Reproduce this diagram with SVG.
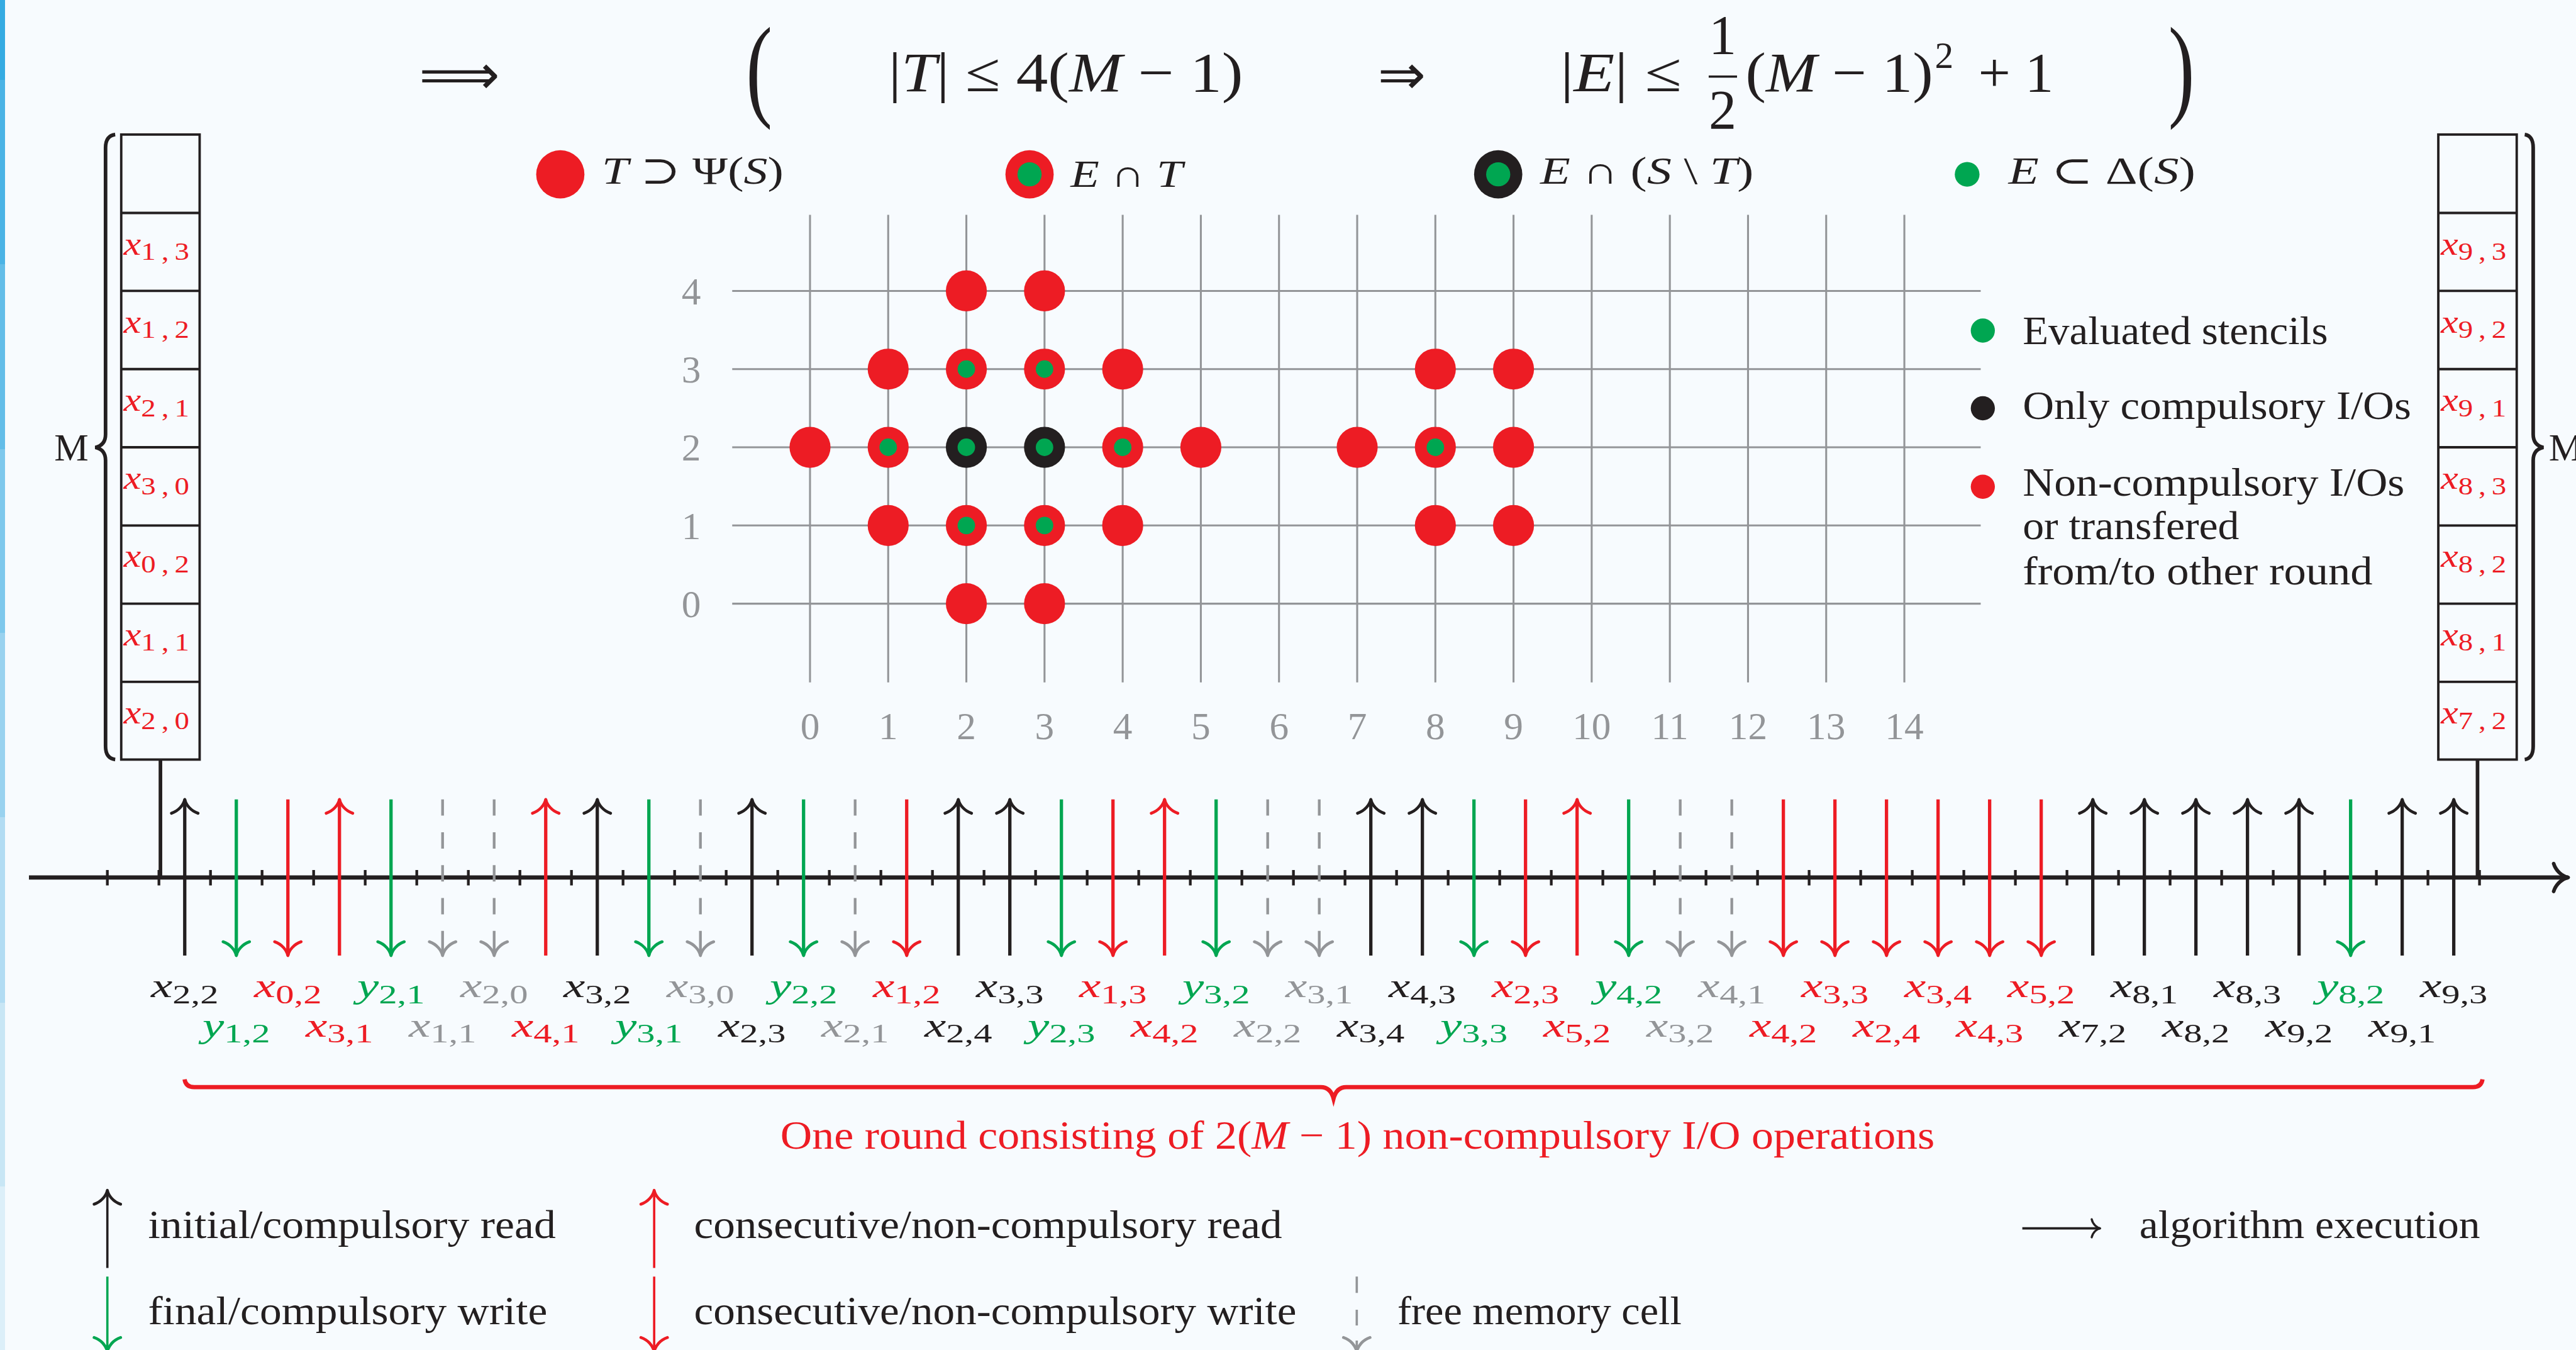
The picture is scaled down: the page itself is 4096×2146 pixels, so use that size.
<svg xmlns="http://www.w3.org/2000/svg" width="4096" height="2146" viewBox="0 0 4096 2146">
<defs>
<style>
text{font-family:'Liberation Serif','DejaVu Serif',serif;fill:#231F20}
.i{font-style:italic}
.k{fill:#231F20}.r{fill:#ED1C24}.g{fill:#00A651}.y{fill:#939598}
.grid line{stroke:#939598;stroke-width:3.2}
.tick{fill:#939598;font-size:64px;text-anchor:middle}
.io{stroke-width:5.5;fill:none}
.sk{stroke:#231F20}.sr{stroke:#ED1C24}.sg{stroke:#00A651}.sy{stroke:#939598}
.dash{stroke-dasharray:27 27.5 27 27.5 27 27.5 27 27.5 60 10;stroke-width:4.5}
.lbl{font-size:58px}
.lbl .s{font-size:44px}
.cell{font-size:56px}
.cell text{fill:#ED1C24}
.cell .s{font-size:42px;letter-spacing:8px}
.box rect,.box line{stroke:#231F20;stroke-width:4;fill:none}
.leg{font-size:66px}
.mt{font-size:64px}
.fm{font-size:92px}
.sup{font-size:62px}
.big{font-size:187px}
.sym{font-family:'DejaVu Sans',sans-serif;font-size:92px}
.la{stroke-width:3.8;fill:none}
</style>
<linearGradient id="strip" x1="0" y1="0" x2="0" y2="1">
<stop offset="0" stop-color="#35ABE2"/><stop offset="0.0594" stop-color="#35ABE2"/>
<stop offset="0.0594" stop-color="#4BB3E5"/><stop offset="0.1957" stop-color="#4BB3E5"/>
<stop offset="0.1957" stop-color="#63BDE8"/><stop offset="0.3325" stop-color="#63BDE8"/>
<stop offset="0.3325" stop-color="#7EC8EC"/><stop offset="0.4688" stop-color="#7EC8EC"/>
<stop offset="0.4688" stop-color="#99D2EF"/><stop offset="0.6055" stop-color="#99D2EF"/>
<stop offset="0.6055" stop-color="#B2DCF3"/><stop offset="0.7427" stop-color="#B2DCF3"/>
<stop offset="0.7427" stop-color="#C8E6F5"/><stop offset="0.8789" stop-color="#C8E6F5"/>
<stop offset="0.8789" stop-color="#DCEFF9"/><stop offset="1" stop-color="#DCEFF9"/>
</linearGradient>
<marker id="hk" markerUnits="userSpaceOnUse" orient="auto" overflow="visible" markerWidth="1" markerHeight="1">
<path d="M-23,-22C-19,-10 -9,-2 0,0C-9,2 -19,10 -23,22" fill="none" stroke="#231F20" stroke-width="4.8" stroke-linecap="round" stroke-linejoin="round"/>
</marker>
<marker id="hg" markerUnits="userSpaceOnUse" orient="auto" overflow="visible" markerWidth="1" markerHeight="1">
<path d="M-23,-22C-19,-10 -9,-2 0,0C-9,2 -19,10 -23,22" fill="none" stroke="#00A651" stroke-width="4.8" stroke-linecap="round" stroke-linejoin="round"/>
</marker>
<marker id="hr" markerUnits="userSpaceOnUse" orient="auto" overflow="visible" markerWidth="1" markerHeight="1">
<path d="M-23,-22C-19,-10 -9,-2 0,0C-9,2 -19,10 -23,22" fill="none" stroke="#ED1C24" stroke-width="4.8" stroke-linecap="round" stroke-linejoin="round"/>
</marker>
<marker id="hy" markerUnits="userSpaceOnUse" orient="auto" overflow="visible" markerWidth="1" markerHeight="1">
<path d="M-23,-22C-19,-10 -9,-2 0,0C-9,2 -19,10 -23,22" fill="none" stroke="#939598" stroke-width="4.8" stroke-linecap="round" stroke-linejoin="round"/>
</marker>
<marker id="hx" markerUnits="userSpaceOnUse" orient="auto" overflow="visible" markerWidth="1" markerHeight="1">
<path d="M-24,-23C-20,-10 -9,-2 0,0C-9,2 -20,10 -24,23" fill="none" stroke="#231F20" stroke-width="6" stroke-linecap="round" stroke-linejoin="round"/>
</marker>
<marker id="hs" markerUnits="userSpaceOnUse" orient="auto" overflow="visible" markerWidth="1" markerHeight="1">
<path d="M-14,-15C-12,-6 -5,-1 0,0C-5,1 -12,6 -14,15" fill="none" stroke="#231F20" stroke-width="3.5" stroke-linecap="round" stroke-linejoin="round"/>
</marker>
</defs>

<rect width="4096" height="2146" fill="#F7FBFE"/>
<rect x="0" y="0" width="8" height="2146" fill="url(#strip)"/>

<g transform="scale(0.95903)">

<!-- headline implication -->
<g id="formula">
<text class="sym" x="694.6" y="155" textLength="134" lengthAdjust="spacingAndGlyphs">⟹</text>
<text class="big" transform="translate(1237,175) scale(0.7,1)">(</text>
<text class="fm" x="1473" y="151" textLength="588" lengthAdjust="spacingAndGlyphs">|<tspan class="i">T</tspan>| ≤ 4(<tspan class="i">M</tspan> − 1)</text>
<text class="sym" x="2284" y="155" textLength="80" lengthAdjust="spacingAndGlyphs">⇒</text>
<text class="fm" x="2587" y="151" textLength="201" lengthAdjust="spacingAndGlyphs">|<tspan class="i">E</tspan>| ≤</text>
<text class="fm" x="2856" y="89" text-anchor="middle">1</text>
<line x1="2833" y1="127" x2="2880" y2="127" stroke="#231F20" stroke-width="3.5"/>
<text class="fm" x="2856" y="213" text-anchor="middle">2</text>
<text class="fm" x="2894" y="151" textLength="311" lengthAdjust="spacingAndGlyphs">(<tspan class="i">M</tspan> − 1)</text>
<text class="sup" x="3208" y="113">2</text>
<text class="fm" x="3280" y="151" textLength="125" lengthAdjust="spacingAndGlyphs">+ 1</text>
<text class="big" transform="translate(3595,175) scale(0.7,1)">)</text>
</g>

<!-- set legend above the grid -->
<g id="legend-sets">
<circle cx="929" cy="289" r="40" fill="#ED1C24"/>
<text class="mt" x="998" y="304" textLength="301" lengthAdjust="spacingAndGlyphs"><tspan class="i">T</tspan> ⊃ Ψ(<tspan class="i">S</tspan>)</text>
<circle cx="1707" cy="289" r="40" fill="#ED1C24"/>
<circle cx="1707" cy="289" r="20" fill="#00A651"/>
<text class="mt" x="1775" y="310" textLength="186" lengthAdjust="spacingAndGlyphs"><tspan class="i">E</tspan> ∩ <tspan class="i">T</tspan></text>
<circle cx="2484" cy="289" r="40" fill="#231F20"/>
<circle cx="2484" cy="289" r="20" fill="#00A651"/>
<text class="mt" x="2553.6" y="304" textLength="354" lengthAdjust="spacingAndGlyphs"><tspan class="i">E</tspan> ∩ (<tspan class="i">S</tspan> \ <tspan class="i">T</tspan>)</text>
<circle cx="3261.5" cy="289" r="20.5" fill="#00A651"/>
<text class="mt" x="3330" y="304" textLength="310" lengthAdjust="spacingAndGlyphs"><tspan class="i">E</tspan> ⊂ Δ(<tspan class="i">S</tspan>)</text>
</g>

<!-- stencil grid -->
<g id="grid" class="grid">
<line x1="1343" y1="356" x2="1343" y2="1131"/>
<line x1="1472.6" y1="356" x2="1472.6" y2="1131"/>
<line x1="1602.2" y1="356" x2="1602.2" y2="1131"/>
<line x1="1731.8" y1="356" x2="1731.8" y2="1131"/>
<line x1="1861.4" y1="356" x2="1861.4" y2="1131"/>
<line x1="1991" y1="356" x2="1991" y2="1131"/>
<line x1="2120.6" y1="356" x2="2120.6" y2="1131"/>
<line x1="2250.2" y1="356" x2="2250.2" y2="1131"/>
<line x1="2379.8" y1="356" x2="2379.8" y2="1131"/>
<line x1="2509.4" y1="356" x2="2509.4" y2="1131"/>
<line x1="2639" y1="356" x2="2639" y2="1131"/>
<line x1="2768.6" y1="356" x2="2768.6" y2="1131"/>
<line x1="2898.2" y1="356" x2="2898.2" y2="1131"/>
<line x1="3027.8" y1="356" x2="3027.8" y2="1131"/>
<line x1="3157.4" y1="356" x2="3157.4" y2="1131"/>
<line x1="1214" y1="482.2" x2="3284" y2="482.2"/>
<line x1="1214" y1="611.8" x2="3284" y2="611.8"/>
<line x1="1214" y1="741.4" x2="3284" y2="741.4"/>
<line x1="1214" y1="871" x2="3284" y2="871"/>
<line x1="1214" y1="1000.6" x2="3284" y2="1000.6"/>
<text class="tick" x="1146" y="504.5">4</text>
<text class="tick" x="1146" y="634.1">3</text>
<text class="tick" x="1146" y="763.7">2</text>
<text class="tick" x="1146" y="893.3">1</text>
<text class="tick" x="1146" y="1022.9">0</text>
<text class="tick" x="1343" y="1225.5">0</text>
<text class="tick" x="1472.6" y="1225.5">1</text>
<text class="tick" x="1602.2" y="1225.5">2</text>
<text class="tick" x="1731.8" y="1225.5">3</text>
<text class="tick" x="1861.4" y="1225.5">4</text>
<text class="tick" x="1991" y="1225.5">5</text>
<text class="tick" x="2120.6" y="1225.5">6</text>
<text class="tick" x="2250.2" y="1225.5">7</text>
<text class="tick" x="2379.8" y="1225.5">8</text>
<text class="tick" x="2509.4" y="1225.5">9</text>
<text class="tick" x="2639" y="1225.5">10</text>
<text class="tick" x="2768.6" y="1225.5">11</text>
<text class="tick" x="2898.2" y="1225.5">12</text>
<text class="tick" x="3027.8" y="1225.5">13</text>
<text class="tick" x="3157.4" y="1225.5">14</text>
</g>

<!-- stencil points -->
<g id="points">
<g fill="#ED1C24">
<circle cx="1602.2" cy="482.2" r="34"/><circle cx="1731.8" cy="482.2" r="34"/>
<circle cx="1472.6" cy="611.8" r="34"/><circle cx="1602.2" cy="611.8" r="34"/><circle cx="1731.8" cy="611.8" r="34"/><circle cx="1861.4" cy="611.8" r="34"/><circle cx="2379.8" cy="611.8" r="34"/><circle cx="2509.4" cy="611.8" r="34"/>
<circle cx="1343" cy="741.4" r="34"/><circle cx="1472.6" cy="741.4" r="34"/><circle cx="1861.4" cy="741.4" r="34"/><circle cx="1991" cy="741.4" r="34"/><circle cx="2250.2" cy="741.4" r="34"/><circle cx="2379.8" cy="741.4" r="34"/><circle cx="2509.4" cy="741.4" r="34"/>
<circle cx="1472.6" cy="871" r="34"/><circle cx="1602.2" cy="871" r="34"/><circle cx="1731.8" cy="871" r="34"/><circle cx="1861.4" cy="871" r="34"/><circle cx="2379.8" cy="871" r="34"/><circle cx="2509.4" cy="871" r="34"/>
<circle cx="1602.2" cy="1000.6" r="34"/><circle cx="1731.8" cy="1000.6" r="34"/>
</g>
<g fill="#231F20">
<circle cx="1602.2" cy="741.4" r="34"/><circle cx="1731.8" cy="741.4" r="34"/>
</g>
<g fill="#00A651">
<circle cx="1602.2" cy="611.8" r="14.5"/><circle cx="1731.8" cy="611.8" r="14.5"/>
<circle cx="1472.6" cy="741.4" r="14.5"/><circle cx="1602.2" cy="741.4" r="14.5"/><circle cx="1731.8" cy="741.4" r="14.5"/><circle cx="1861.4" cy="741.4" r="14.5"/><circle cx="2379.8" cy="741.4" r="14.5"/>
<circle cx="1602.2" cy="871" r="14.5"/><circle cx="1731.8" cy="871" r="14.5"/>
</g>
</g>

<!-- point legend -->
<g id="legend-points">
<circle cx="3287.5" cy="548" r="20" fill="#00A651"/>
<text class="leg" x="3353.6" y="570.8" textLength="506" lengthAdjust="spacingAndGlyphs">Evaluated stencils</text>
<circle cx="3287.5" cy="676.7" r="20" fill="#231F20"/>
<text class="leg" x="3353.6" y="694" textLength="644" lengthAdjust="spacingAndGlyphs">Only compulsory I/Os</text>
<circle cx="3287.5" cy="806.8" r="20" fill="#ED1C24"/>
<text class="leg" x="3353.6" y="821.7" textLength="633" lengthAdjust="spacingAndGlyphs">Non-compulsory I/Os</text>
<text class="leg" x="3353.6" y="893.8" textLength="359" lengthAdjust="spacingAndGlyphs">or transfered</text>
<text class="leg" x="3353.6" y="969" textLength="580" lengthAdjust="spacingAndGlyphs">from/to other round</text>
</g>

<!-- fast memory at the start of the round -->
<g id="memory-left" class="box">
<rect x="201" y="223" width="130" height="1036"/>
<line x1="201" y1="353" x2="331" y2="353"/>
<line x1="201" y1="482.2" x2="331" y2="482.2"/>
<line x1="201" y1="611.8" x2="331" y2="611.8"/>
<line x1="201" y1="741.4" x2="331" y2="741.4"/>
<line x1="201" y1="871" x2="331" y2="871"/>
<line x1="201" y1="1000.6" x2="331" y2="1000.6"/>
<line x1="201" y1="1130.2" x2="331" y2="1130.2"/>
<g class="cell">
<text x="205" y="422" textLength="118" lengthAdjust="spacingAndGlyphs"><tspan class="i">x</tspan><tspan class="s" dy="9">1,3</tspan></text>
<text x="205" y="551.2" textLength="118" lengthAdjust="spacingAndGlyphs"><tspan class="i">x</tspan><tspan class="s" dy="9">1,2</tspan></text>
<text x="205" y="680.8" textLength="118" lengthAdjust="spacingAndGlyphs"><tspan class="i">x</tspan><tspan class="s" dy="9">2,1</tspan></text>
<text x="205" y="810.4" textLength="118" lengthAdjust="spacingAndGlyphs"><tspan class="i">x</tspan><tspan class="s" dy="9">3,0</tspan></text>
<text x="205" y="940" textLength="118" lengthAdjust="spacingAndGlyphs"><tspan class="i">x</tspan><tspan class="s" dy="9">0,2</tspan></text>
<text x="205" y="1069.6" textLength="118" lengthAdjust="spacingAndGlyphs"><tspan class="i">x</tspan><tspan class="s" dy="9">1,1</tspan></text>
<text x="205" y="1199.2" textLength="118" lengthAdjust="spacingAndGlyphs"><tspan class="i">x</tspan><tspan class="s" dy="9">2,0</tspan></text>
</g>
<path d="M191,223Q175,225 175,245V720Q175,738 158,741.6Q175,745 175,763V1237Q175,1257 191,1259" fill="none" stroke="#231F20" stroke-width="6"/>
<text x="90" y="763" style="font-size:64px">M</text>
</g>

<!-- fast memory at the end of the round -->
<g id="memory-right" class="box">
<rect x="4042.7" y="223" width="130" height="1036"/>
<line x1="4042.7" y1="353" x2="4172.7" y2="353"/>
<line x1="4042.7" y1="482.2" x2="4172.7" y2="482.2"/>
<line x1="4042.7" y1="611.8" x2="4172.7" y2="611.8"/>
<line x1="4042.7" y1="741.4" x2="4172.7" y2="741.4"/>
<line x1="4042.7" y1="871" x2="4172.7" y2="871"/>
<line x1="4042.7" y1="1000.6" x2="4172.7" y2="1000.6"/>
<line x1="4042.7" y1="1130.2" x2="4172.7" y2="1130.2"/>
<g class="cell">
<text x="4046.7" y="422" textLength="118" lengthAdjust="spacingAndGlyphs"><tspan class="i">x</tspan><tspan class="s" dy="9">9,3</tspan></text>
<text x="4046.7" y="551.2" textLength="118" lengthAdjust="spacingAndGlyphs"><tspan class="i">x</tspan><tspan class="s" dy="9">9,2</tspan></text>
<text x="4046.7" y="680.8" textLength="118" lengthAdjust="spacingAndGlyphs"><tspan class="i">x</tspan><tspan class="s" dy="9">9,1</tspan></text>
<text x="4046.7" y="810.4" textLength="118" lengthAdjust="spacingAndGlyphs"><tspan class="i">x</tspan><tspan class="s" dy="9">8,3</tspan></text>
<text x="4046.7" y="940" textLength="118" lengthAdjust="spacingAndGlyphs"><tspan class="i">x</tspan><tspan class="s" dy="9">8,2</tspan></text>
<text x="4046.7" y="1069.6" textLength="118" lengthAdjust="spacingAndGlyphs"><tspan class="i">x</tspan><tspan class="s" dy="9">8,1</tspan></text>
<text x="4046.7" y="1199.2" textLength="118" lengthAdjust="spacingAndGlyphs"><tspan class="i">x</tspan><tspan class="s" dy="9">7,2</tspan></text>
</g>
<path d="M4186,223Q4200,225 4200,245V720Q4200,738 4217,741.6Q4200,745 4200,763V1237Q4200,1257 4186,1259" fill="none" stroke="#231F20" stroke-width="6"/>
<text x="4226" y="763" style="font-size:64px">M</text>
</g>

<!-- execution axis and I/O operations -->
<g id="connectors">
<line x1="266" y1="1259" x2="266" y2="1454" stroke="#231F20" stroke-width="6"/>
<line x1="4107.7" y1="1259" x2="4107.7" y2="1454" stroke="#231F20" stroke-width="6"/>
<line x1="48" y1="1454.5" x2="4258" y2="1454.5" stroke="#231F20" stroke-width="7" marker-end="url(#hx)"/>
<line x1="175.75" y1="1454.75" x2="4113.25" y2="1454.75" stroke="#231F20" stroke-width="25.5" stroke-dasharray="4.5 81"/>

<g class="io sk">
<line x1="306.3" y1="1584" x2="306.3" y2="1325" marker-end="url(#hk)"/>
<line x1="990.3" y1="1584" x2="990.3" y2="1325" marker-end="url(#hk)"/>
<line x1="1246.8" y1="1584" x2="1246.8" y2="1325" marker-end="url(#hk)"/>
<line x1="1588.8" y1="1584" x2="1588.8" y2="1325" marker-end="url(#hk)"/>
<line x1="1674.3" y1="1584" x2="1674.3" y2="1325" marker-end="url(#hk)"/>
<line x1="2272.8" y1="1584" x2="2272.8" y2="1325" marker-end="url(#hk)"/>
<line x1="2358.3" y1="1584" x2="2358.3" y2="1325" marker-end="url(#hk)"/>
<line x1="3469.8" y1="1584" x2="3469.8" y2="1325" marker-end="url(#hk)"/>
<line x1="3555.3" y1="1584" x2="3555.3" y2="1325" marker-end="url(#hk)"/>
<line x1="3640.8" y1="1584" x2="3640.8" y2="1325" marker-end="url(#hk)"/>
<line x1="3726.3" y1="1584" x2="3726.3" y2="1325" marker-end="url(#hk)"/>
<line x1="3811.8" y1="1584" x2="3811.8" y2="1325" marker-end="url(#hk)"/>
<line x1="3982.8" y1="1584" x2="3982.8" y2="1325" marker-end="url(#hk)"/>
<line x1="4068.3" y1="1584" x2="4068.3" y2="1325" marker-end="url(#hk)"/>
</g>
<g class="io sg">
<line x1="391.8" y1="1325" x2="391.8" y2="1584" marker-end="url(#hg)"/>
<line x1="648.3" y1="1325" x2="648.3" y2="1584" marker-end="url(#hg)"/>
<line x1="1075.8" y1="1325" x2="1075.8" y2="1584" marker-end="url(#hg)"/>
<line x1="1332.3" y1="1325" x2="1332.3" y2="1584" marker-end="url(#hg)"/>
<line x1="1759.8" y1="1325" x2="1759.8" y2="1584" marker-end="url(#hg)"/>
<line x1="2016.3" y1="1325" x2="2016.3" y2="1584" marker-end="url(#hg)"/>
<line x1="2443.8" y1="1325" x2="2443.8" y2="1584" marker-end="url(#hg)"/>
<line x1="2700.3" y1="1325" x2="2700.3" y2="1584" marker-end="url(#hg)"/>
<line x1="3897.3" y1="1325" x2="3897.3" y2="1584" marker-end="url(#hg)"/>
</g>
<g class="io sr">
<line x1="477.3" y1="1325" x2="477.3" y2="1584" marker-end="url(#hr)"/>
<line x1="1503.3" y1="1325" x2="1503.3" y2="1584" marker-end="url(#hr)"/>
<line x1="1845.3" y1="1325" x2="1845.3" y2="1584" marker-end="url(#hr)"/>
<line x1="2529.3" y1="1325" x2="2529.3" y2="1584" marker-end="url(#hr)"/>
<line x1="2956.8" y1="1325" x2="2956.8" y2="1584" marker-end="url(#hr)"/>
<line x1="3042.3" y1="1325" x2="3042.3" y2="1584" marker-end="url(#hr)"/>
<line x1="3127.8" y1="1325" x2="3127.8" y2="1584" marker-end="url(#hr)"/>
<line x1="3213.3" y1="1325" x2="3213.3" y2="1584" marker-end="url(#hr)"/>
<line x1="3298.8" y1="1325" x2="3298.8" y2="1584" marker-end="url(#hr)"/>
<line x1="3384.3" y1="1325" x2="3384.3" y2="1584" marker-end="url(#hr)"/>
<line x1="562.8" y1="1584" x2="562.8" y2="1325" marker-end="url(#hr)"/>
<line x1="904.8" y1="1584" x2="904.8" y2="1325" marker-end="url(#hr)"/>
<line x1="1930.8" y1="1584" x2="1930.8" y2="1325" marker-end="url(#hr)"/>
<line x1="2614.8" y1="1584" x2="2614.8" y2="1325" marker-end="url(#hr)"/>
</g>
<g class="io sy dash">
<line x1="733.8" y1="1325" x2="733.8" y2="1584" marker-end="url(#hy)"/>
<line x1="819.3" y1="1325" x2="819.3" y2="1584" marker-end="url(#hy)"/>
<line x1="1161.3" y1="1325" x2="1161.3" y2="1584" marker-end="url(#hy)"/>
<line x1="1417.8" y1="1325" x2="1417.8" y2="1584" marker-end="url(#hy)"/>
<line x1="2101.8" y1="1325" x2="2101.8" y2="1584" marker-end="url(#hy)"/>
<line x1="2187.3" y1="1325" x2="2187.3" y2="1584" marker-end="url(#hy)"/>
<line x1="2785.8" y1="1325" x2="2785.8" y2="1584" marker-end="url(#hy)"/>
<line x1="2871.3" y1="1325" x2="2871.3" y2="1584" marker-end="url(#hy)"/>
</g>
</g>

<!-- operand of each I/O operation -->
<g id="io-labels" class="lbl">
<text class="k" x="250.3" y="1653" textLength="112" lengthAdjust="spacingAndGlyphs"><tspan class="i">x</tspan><tspan class="s" dy="10">2,2</tspan></text>
<text class="r" x="421.3" y="1653" textLength="112" lengthAdjust="spacingAndGlyphs"><tspan class="i">x</tspan><tspan class="s" dy="10">0,2</tspan></text>
<text class="g" x="592.3" y="1653" textLength="112" lengthAdjust="spacingAndGlyphs"><tspan class="i">y</tspan><tspan class="s" dy="10">2,1</tspan></text>
<text class="y" x="763.3" y="1653" textLength="112" lengthAdjust="spacingAndGlyphs"><tspan class="i">x</tspan><tspan class="s" dy="10">2,0</tspan></text>
<text class="k" x="934.3" y="1653" textLength="112" lengthAdjust="spacingAndGlyphs"><tspan class="i">x</tspan><tspan class="s" dy="10">3,2</tspan></text>
<text class="y" x="1105.3" y="1653" textLength="112" lengthAdjust="spacingAndGlyphs"><tspan class="i">x</tspan><tspan class="s" dy="10">3,0</tspan></text>
<text class="g" x="1276.3" y="1653" textLength="112" lengthAdjust="spacingAndGlyphs"><tspan class="i">y</tspan><tspan class="s" dy="10">2,2</tspan></text>
<text class="r" x="1447.3" y="1653" textLength="112" lengthAdjust="spacingAndGlyphs"><tspan class="i">x</tspan><tspan class="s" dy="10">1,2</tspan></text>
<text class="k" x="1618.3" y="1653" textLength="112" lengthAdjust="spacingAndGlyphs"><tspan class="i">x</tspan><tspan class="s" dy="10">3,3</tspan></text>
<text class="r" x="1789.3" y="1653" textLength="112" lengthAdjust="spacingAndGlyphs"><tspan class="i">x</tspan><tspan class="s" dy="10">1,3</tspan></text>
<text class="g" x="1960.3" y="1653" textLength="112" lengthAdjust="spacingAndGlyphs"><tspan class="i">y</tspan><tspan class="s" dy="10">3,2</tspan></text>
<text class="y" x="2131.3" y="1653" textLength="112" lengthAdjust="spacingAndGlyphs"><tspan class="i">x</tspan><tspan class="s" dy="10">3,1</tspan></text>
<text class="k" x="2302.3" y="1653" textLength="112" lengthAdjust="spacingAndGlyphs"><tspan class="i">x</tspan><tspan class="s" dy="10">4,3</tspan></text>
<text class="r" x="2473.3" y="1653" textLength="112" lengthAdjust="spacingAndGlyphs"><tspan class="i">x</tspan><tspan class="s" dy="10">2,3</tspan></text>
<text class="g" x="2644.3" y="1653" textLength="112" lengthAdjust="spacingAndGlyphs"><tspan class="i">y</tspan><tspan class="s" dy="10">4,2</tspan></text>
<text class="y" x="2815.3" y="1653" textLength="112" lengthAdjust="spacingAndGlyphs"><tspan class="i">x</tspan><tspan class="s" dy="10">4,1</tspan></text>
<text class="r" x="2986.3" y="1653" textLength="112" lengthAdjust="spacingAndGlyphs"><tspan class="i">x</tspan><tspan class="s" dy="10">3,3</tspan></text>
<text class="r" x="3157.3" y="1653" textLength="112" lengthAdjust="spacingAndGlyphs"><tspan class="i">x</tspan><tspan class="s" dy="10">3,4</tspan></text>
<text class="r" x="3328.3" y="1653" textLength="112" lengthAdjust="spacingAndGlyphs"><tspan class="i">x</tspan><tspan class="s" dy="10">5,2</tspan></text>
<text class="k" x="3499.3" y="1653" textLength="112" lengthAdjust="spacingAndGlyphs"><tspan class="i">x</tspan><tspan class="s" dy="10">8,1</tspan></text>
<text class="k" x="3670.3" y="1653" textLength="112" lengthAdjust="spacingAndGlyphs"><tspan class="i">x</tspan><tspan class="s" dy="10">8,3</tspan></text>
<text class="g" x="3841.3" y="1653" textLength="112" lengthAdjust="spacingAndGlyphs"><tspan class="i">y</tspan><tspan class="s" dy="10">8,2</tspan></text>
<text class="k" x="4012.3" y="1653" textLength="112" lengthAdjust="spacingAndGlyphs"><tspan class="i">x</tspan><tspan class="s" dy="10">9,3</tspan></text>

<text class="g" x="335.8" y="1718" textLength="112" lengthAdjust="spacingAndGlyphs"><tspan class="i">y</tspan><tspan class="s" dy="10">1,2</tspan></text>
<text class="r" x="506.8" y="1718" textLength="112" lengthAdjust="spacingAndGlyphs"><tspan class="i">x</tspan><tspan class="s" dy="10">3,1</tspan></text>
<text class="y" x="677.8" y="1718" textLength="112" lengthAdjust="spacingAndGlyphs"><tspan class="i">x</tspan><tspan class="s" dy="10">1,1</tspan></text>
<text class="r" x="848.8" y="1718" textLength="112" lengthAdjust="spacingAndGlyphs"><tspan class="i">x</tspan><tspan class="s" dy="10">4,1</tspan></text>
<text class="g" x="1019.8" y="1718" textLength="112" lengthAdjust="spacingAndGlyphs"><tspan class="i">y</tspan><tspan class="s" dy="10">3,1</tspan></text>
<text class="k" x="1190.8" y="1718" textLength="112" lengthAdjust="spacingAndGlyphs"><tspan class="i">x</tspan><tspan class="s" dy="10">2,3</tspan></text>
<text class="y" x="1361.8" y="1718" textLength="112" lengthAdjust="spacingAndGlyphs"><tspan class="i">x</tspan><tspan class="s" dy="10">2,1</tspan></text>
<text class="k" x="1532.8" y="1718" textLength="112" lengthAdjust="spacingAndGlyphs"><tspan class="i">x</tspan><tspan class="s" dy="10">2,4</tspan></text>
<text class="g" x="1703.8" y="1718" textLength="112" lengthAdjust="spacingAndGlyphs"><tspan class="i">y</tspan><tspan class="s" dy="10">2,3</tspan></text>
<text class="r" x="1874.8" y="1718" textLength="112" lengthAdjust="spacingAndGlyphs"><tspan class="i">x</tspan><tspan class="s" dy="10">4,2</tspan></text>
<text class="y" x="2045.8" y="1718" textLength="112" lengthAdjust="spacingAndGlyphs"><tspan class="i">x</tspan><tspan class="s" dy="10">2,2</tspan></text>
<text class="k" x="2216.8" y="1718" textLength="112" lengthAdjust="spacingAndGlyphs"><tspan class="i">x</tspan><tspan class="s" dy="10">3,4</tspan></text>
<text class="g" x="2387.8" y="1718" textLength="112" lengthAdjust="spacingAndGlyphs"><tspan class="i">y</tspan><tspan class="s" dy="10">3,3</tspan></text>
<text class="r" x="2558.8" y="1718" textLength="112" lengthAdjust="spacingAndGlyphs"><tspan class="i">x</tspan><tspan class="s" dy="10">5,2</tspan></text>
<text class="y" x="2729.8" y="1718" textLength="112" lengthAdjust="spacingAndGlyphs"><tspan class="i">x</tspan><tspan class="s" dy="10">3,2</tspan></text>
<text class="r" x="2900.8" y="1718" textLength="112" lengthAdjust="spacingAndGlyphs"><tspan class="i">x</tspan><tspan class="s" dy="10">4,2</tspan></text>
<text class="r" x="3071.8" y="1718" textLength="112" lengthAdjust="spacingAndGlyphs"><tspan class="i">x</tspan><tspan class="s" dy="10">2,4</tspan></text>
<text class="r" x="3242.8" y="1718" textLength="112" lengthAdjust="spacingAndGlyphs"><tspan class="i">x</tspan><tspan class="s" dy="10">4,3</tspan></text>
<text class="k" x="3413.8" y="1718" textLength="112" lengthAdjust="spacingAndGlyphs"><tspan class="i">x</tspan><tspan class="s" dy="10">7,2</tspan></text>
<text class="k" x="3584.8" y="1718" textLength="112" lengthAdjust="spacingAndGlyphs"><tspan class="i">x</tspan><tspan class="s" dy="10">8,2</tspan></text>
<text class="k" x="3755.8" y="1718" textLength="112" lengthAdjust="spacingAndGlyphs"><tspan class="i">x</tspan><tspan class="s" dy="10">9,2</tspan></text>
<text class="k" x="3926.8" y="1718" textLength="112" lengthAdjust="spacingAndGlyphs"><tspan class="i">x</tspan><tspan class="s" dy="10">9,1</tspan></text>
</g>

<!-- one round brace -->
<g id="round">
<path d="M306,1789Q308,1802 322,1802H2190Q2206,1802 2211,1821Q2216,1802 2232,1802H4100Q4114,1802 4116,1789" fill="none" stroke="#ED1C24" stroke-width="7"/>
<text class="leg r" x="1293.7" y="1904" textLength="1914" lengthAdjust="spacingAndGlyphs">One round consisting of 2(<tspan class="i">M</tspan> − 1) non-compulsory I/O operations</text>
</g>

<!-- operation legend -->
<g id="legend-ops">
<line class="la sk" x1="178" y1="2101.7" x2="178" y2="1973" marker-end="url(#hk)"/>
<text class="leg" x="245.5" y="2051.7" textLength="676" lengthAdjust="spacingAndGlyphs">initial/compulsory read</text>
<line class="la sg" x1="178" y1="2116" x2="178" y2="2240" marker-end="url(#hg)"/>
<text class="leg" x="245.5" y="2195" textLength="662" lengthAdjust="spacingAndGlyphs">final/compulsory write</text>
<line class="la sr" x1="1084.6" y1="2101.7" x2="1084.6" y2="1973" marker-end="url(#hr)"/>
<text class="leg" x="1150.6" y="2051.7" textLength="975" lengthAdjust="spacingAndGlyphs">consecutive/non-compulsory read</text>
<line class="la sr" x1="1084.6" y1="2116" x2="1084.6" y2="2240" marker-end="url(#hr)"/>
<text class="leg" x="1150.6" y="2195" textLength="999" lengthAdjust="spacingAndGlyphs">consecutive/non-compulsory write</text>
<line class="la sy" x1="2249.5" y1="2116" x2="2249.5" y2="2240" stroke-dasharray="27 28 26 25 40 0" marker-end="url(#hy)"/>
<text class="leg" x="2317" y="2195" textLength="471" lengthAdjust="spacingAndGlyphs">free memory cell</text>
<line class="la sk" x1="3353" y1="2036" x2="3482" y2="2036" marker-end="url(#hs)"/>
<text class="leg" x="3547" y="2051.7" textLength="565" lengthAdjust="spacingAndGlyphs">algorithm execution</text>
</g>

</g>
</svg>
